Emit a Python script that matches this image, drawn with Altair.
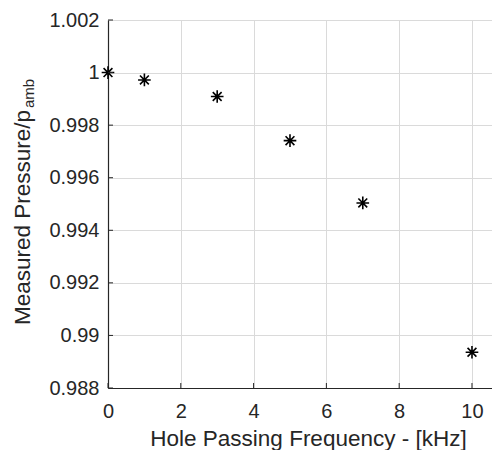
import altair as alt
import pandas as pd

freq_khz = [0, 1, 3, 5, 7, 10]
pressure_ratio = [1.0, 0.99972, 0.99909, 0.99741, 0.99504, 0.98936]
x_ticks = [0, 2, 4, 6, 8, 10]
y_ticks = [0.988, 0.990, 0.992, 0.994, 0.996, 0.998, 1.000, 1.002]

df = pd.DataFrame({"f": freq_khz, "p": pressure_ratio})
xt = pd.DataFrame({"f": x_ticks})
yt = pd.DataFrame({"p": y_ticks})

AX = "#262626"
FONT = "Liberation Sans"
H = 368

xscale = alt.Scale(domain=[0, 10.55], nice=False, zero=False)
yscale = alt.Scale(domain=[0.988, 1.002], nice=False, zero=False)

star = "M-1,0L1,0M0,-1L0,1M-0.7,-0.7L0.7,0.7M-0.7,0.7L0.7,-0.7"

points = alt.Chart(df).mark_point(
    shape=star, filled=False, stroke="black", strokeWidth=1.6, size=160, opacity=1
).encode(
    x=alt.X("f:Q", scale=xscale, axis=alt.Axis(
        values=x_ticks, title="Hole Passing Frequency - [kHz]", tickSize=0,
        labelPadding=13, labelFontSize=20, labelColor=AX, labelFont=FONT,
        labelFlush=False,
        titleFontSize=22.5, titleFont=FONT, titleColor=AX, titleFontWeight="normal",
        titleX=200, titleY=57, titleBaseline="alphabetic", titleAlign="center",
        domainColor=AX, domainWidth=1.2, gridColor="#dadada", gridWidth=1,
    )),
    y=alt.Y("p:Q", scale=yscale, axis=alt.Axis(
        values=y_ticks, format=".3~f", title=None, tickSize=0,
        labelPadding=9, labelFontSize=20, labelColor=AX, labelFont=FONT,
        labelFlush=False,
        domainColor=AX, domainWidth=1.2, gridColor="#dadada", gridWidth=1,
    )),
)

yticks = alt.Chart(yt).mark_rule(color=AX, strokeWidth=1).encode(
    y=alt.Y("p:Q", scale=yscale), x=alt.value(0), x2=alt.value(5)
)
xticks = alt.Chart(xt).mark_rule(color=AX, strokeWidth=1).encode(
    x=alt.X("f:Q", scale=xscale), y=alt.value(H), y2=alt.value(H - 5)
)

ytitle = alt.Chart(pd.DataFrame({"t": ["Measured Pressure/p"]})).mark_text(
    angle=270, align="left", baseline="alphabetic", fontSize=22.5, font=FONT, color=AX
).encode(text="t:N", x=alt.value(-78), y=alt.value(305))

ysub = alt.Chart(pd.DataFrame({"t": ["amb"]})).mark_text(
    angle=270, align="left", baseline="alphabetic", fontSize=15, font=FONT, color=AX
).encode(text="t:N", x=alt.value(-74), y=alt.value(88))

chart = alt.layer(points, yticks, xticks, ytitle, ysub).properties(
    width=384, height=H,
    autosize=alt.AutoSizeParams(type="none"),
    padding={"left": 100, "top": 12, "right": 0, "bottom": 62},
).configure_view(stroke=None).configure(background="white")

chart.save("out.html", embed_options={"renderer": "svg", "actions": False})
